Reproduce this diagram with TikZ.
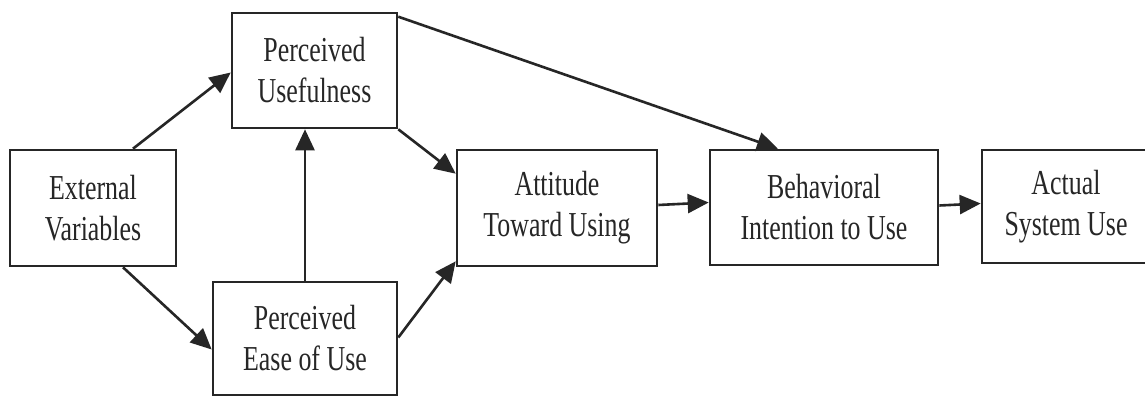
\documentclass[tikz,border=0pt]{standalone}
\usepackage{fontspec}
\setmainfont[FakeStretch=0.74]{Liberation Serif}
\usetikzlibrary{arrows.meta}
\definecolor{ink}{HTML}{262626}
\tikzset{
  box/.style={draw=ink, line width=2.6pt, fill=white, inner sep=0pt, align=center,
    text=ink, font=\fontsize{35}{41}\selectfont},
  conn/.style={draw=ink, line width=2.6pt, -{Triangle[length=21pt,width=19pt]}}
}
\begin{document}
\begin{tikzpicture}[x=1pt,y=-1pt]
\clip (0,0) rectangle (1145,396);
\useasboundingbox (0,0) rectangle (1145,396);
\fill[white] (0,0) rectangle (1145,396);
\node[box, minimum width=166pt, minimum height=116pt] (ev) at (93,208) {External\\Variables};
\node[box, minimum width=165pt, minimum height=115pt] (pu) at (314.5,70.5) {Perceived\\Usefulness};
\node[box, minimum width=184pt, minimum height=113pt] (peou) at (305,338.5) {Perceived\\Ease of Use};
\node[box, minimum width=200pt, minimum height=116pt] (att) at (557,208) {Attitude\\Toward Using};
\node[box, minimum width=228pt, minimum height=115pt] (bi) at (824,207.5) {Behavioral\\Intention to Use};
\node[box, minimum width=168pt, minimum height=113pt] (asu) at (1066,206.5) {Actual\\System Use};
\draw[conn] ([xshift=40pt]ev.north) -- ([yshift=-2pt]pu.west);
\draw[conn] ([xshift=30pt]ev.south) -- ([yshift=-11pt]peou.west);
\draw[conn] (peou.north) -- (peou.north |- pu.south);
\draw[conn] (pu.south east) -- ([yshift=-25pt]att.north west);
\draw[conn] ([yshift=1pt]peou.east) -- ([yshift=6pt]att.south west);
\draw[conn] ([yshift=-5pt]pu.north east) -- ([xshift=-46pt]bi.north);
\draw[conn] ([yshift=3pt]att.east) -- ([yshift=5pt]bi.west);
\draw[conn] ([yshift=2pt]bi.east) -- ([yshift=3pt]asu.west);
\end{tikzpicture}
\end{document}
